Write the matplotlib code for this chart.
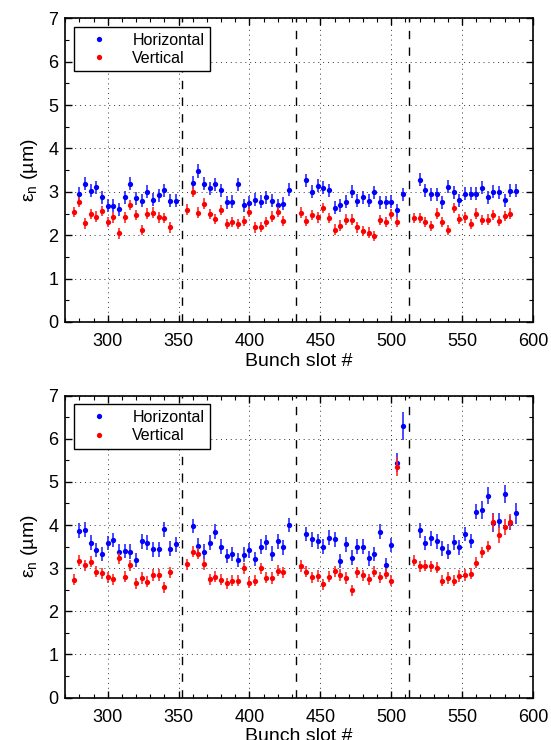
import matplotlib
matplotlib.use('Agg')
import matplotlib.pyplot as plt
from matplotlib.lines import Line2D
from matplotlib.ticker import MultipleLocator

plt.rcParams['font.family'] = ['Liberation Sans', 'DejaVu Sans']
plt.rcParams['mathtext.fontset'] = 'custom'
plt.rcParams['mathtext.rm'] = 'Liberation Sans'

# bunch slots (horizontal points sit one slot-step after the vertical ones)
h_slots = [280, 284, 288, 292, 296, 300, 304, 308, 312, 316, 320, 324, 328, 332, 336, 340, 344, 348,
           360, 364, 368, 372, 376, 380, 384, 388, 392, 396, 400, 404, 408, 412, 416, 420, 424, 428,
           440, 444, 448, 452, 456, 460, 464, 468, 472, 476, 480, 484, 488, 492, 496, 500, 504, 508,
           520, 524, 528, 532, 536, 540, 544, 548, 552, 556, 560, 564, 568, 572, 576, 580, 584, 588]
v_slots = [276, 280, 284, 288, 292, 296, 300, 304, 308, 312, 316, 320, 324, 328, 332, 336, 340, 344,
           356, 360, 364, 368, 372, 376, 380, 384, 388, 392, 396, 400, 404, 408, 412, 416, 420, 424,
           436, 440, 444, 448, 452, 456, 460, 464, 468, 472, 476, 480, 484, 488, 492, 496, 500, 504,
           516, 520, 524, 528, 532, 536, 540, 544, 548, 552, 556, 560, 564, 568, 572, 576, 580, 584]

# top panel
top_h = [2.95, 3.19, 3.02, 3.10, 2.87, 2.68, 2.68, 2.60, 2.87, 3.19, 2.85, 2.79, 3.00, 2.82, 2.92, 3.04, 2.79, 2.79,
         3.21, 3.48, 3.19, 3.08, 3.17, 3.04, 2.76, 2.77, 3.17, 2.69, 2.75, 2.82, 2.77, 2.87, 2.79, 2.69, 2.73, 3.05,
         3.27, 3.00, 3.14, 3.09, 3.04, 2.63, 2.69, 2.77, 3.00, 2.79, 2.87, 2.79, 2.99, 2.76, 2.76, 2.77, 2.58, 2.94,
         3.28, 3.04, 2.94, 2.94, 2.76, 3.12, 2.99, 2.81, 2.95, 2.96, 2.96, 3.09, 2.87, 3.00, 2.99, 2.81, 3.02, 3.02]
top_v = [2.54, 2.77, 2.27, 2.49, 2.43, 2.56, 2.31, 2.41, 2.04, 2.41, 2.69, 2.46, 2.12, 2.50, 2.52, 2.41, 2.39, 2.18,
         2.59, 3.00, 2.52, 2.73, 2.49, 2.37, 2.58, 2.26, 2.31, 2.26, 2.33, 2.54, 2.18, 2.19, 2.31, 2.43, 2.54, 2.33,
         2.52, 2.33, 2.46, 2.41, 2.63, 2.40, 2.13, 2.22, 2.36, 2.36, 2.18, 2.10, 2.06, 1.98, 2.35, 2.30, 2.49, 2.30,
         2.39, 2.40, 2.31, 2.21, 2.50, 2.31, 2.12, 2.63, 2.37, 2.41, 2.26, 2.50, 2.35, 2.36, 2.46, 2.33, 2.44, 2.50]
top_h_err = 0.15
top_v_err = 0.12

# bottom panel
bot_h = [3.87, 3.89, 3.59, 3.42, 3.33, 3.58, 3.65, 3.38, 3.40, 3.38, 3.19, 3.62, 3.59, 3.44, 3.44, 3.90, 3.45, 3.55,
         3.98, 3.52, 3.38, 3.59, 3.85, 3.50, 3.28, 3.33, 3.19, 3.31, 3.41, 3.21, 3.50, 3.60, 3.34, 3.62, 3.48, 4.00,
         3.79, 3.67, 3.62, 3.50, 3.71, 3.67, 3.17, 3.55, 3.24, 3.50, 3.50, 3.23, 3.33, 3.85, 3.07, 3.54, 5.45, 6.30,
         3.88, 3.58, 3.69, 3.62, 3.46, 3.38, 3.60, 3.48, 3.79, 3.63, 4.31, 4.35, 4.68, 4.05, 4.10, 4.72, 4.05, 4.27]
bot_v = [2.73, 3.17, 3.07, 3.15, 2.92, 2.88, 2.79, 2.74, 3.23, 2.80, 3.07, 2.65, 2.77, 2.69, 2.84, 2.84, 2.56, 2.90,
         3.09, 3.38, 3.34, 3.09, 2.74, 2.80, 2.73, 2.65, 2.71, 2.71, 3.00, 2.66, 2.71, 3.00, 2.78, 2.77, 2.94, 2.90,
         3.05, 2.92, 2.79, 2.82, 2.63, 2.80, 2.93, 2.84, 2.77, 2.49, 2.90, 2.83, 2.74, 2.92, 2.79, 2.87, 2.71, 5.35,
         3.17, 3.04, 3.06, 3.04, 3.01, 2.71, 2.77, 2.71, 2.82, 2.84, 2.87, 3.13, 3.37, 3.50, 4.08, 3.77, 3.95, 4.08]
bot_h_err = 0.17
bot_v_err = 0.13
# larger uncertainties on a few bunches (slot: error)
bot_h_err_big = {504: 0.22, 508: 0.32, 564: 0.2, 568: 0.2, 572: 0.22, 580: 0.22, 588: 0.25}
bot_v_err_big = {504: 0.22, 572: 0.18, 576: 0.18, 580: 0.18, 584: 0.18}

train_edges = [352.5, 432.5, 512.5]


def errs(slots, default, big):
    return [big.get(s, default) for s in slots]


fig = plt.figure(figsize=(5.51, 7.40), dpi=100)
ax1 = fig.add_axes([0.1183, 0.5649, 0.849, 0.4104])
ax2 = fig.add_axes([0.1183, 0.0574, 0.849, 0.4079])

panels = [
    (ax1, top_h, top_v, errs(h_slots, top_h_err, {}), errs(v_slots, top_v_err, {})),
    (ax2, bot_h, bot_v, errs(h_slots, bot_h_err, bot_h_err_big), errs(v_slots, bot_v_err, bot_v_err_big)),
]

for ax, h, v, he, ve in panels:
    ax.errorbar(h_slots, h, yerr=he, fmt='o', color='#0000ff', ecolor='#2a2aff', ms=3.8, mew=0,
                elinewidth=1.2, capsize=2.3, capthick=1.2, zorder=3)
    ax.errorbar(v_slots, v, yerr=ve, fmt='o', color='#ff0000', ecolor='#ff2a2a', ms=3.8, mew=0,
                elinewidth=1.2, capsize=2.3, capthick=1.2, zorder=4)
    for xe in train_edges:
        ax.axvline(xe, color='k', linestyle=(0, (6, 6)), lw=1.0, zorder=2)
    ax.set_xlim(270, 600)
    ax.set_ylim(0, 7)
    ax.xaxis.set_major_locator(MultipleLocator(50))
    ax.xaxis.set_minor_locator(MultipleLocator(10))
    ax.yaxis.set_major_locator(MultipleLocator(1))
    ax.yaxis.set_minor_locator(MultipleLocator(0.5))
    ax.grid(True, which='major', linestyle=(0, (1, 4)), color='k', lw=0.7, alpha=0.8)
    ax.tick_params(which='both', direction='in', top=True, right=True, labelsize=13)
    ax.tick_params(which='major', length=5, width=1)
    ax.tick_params(which='minor', length=3, width=0.8)
    ax.tick_params(axis='x', which='major', pad=8)
    ax.tick_params(axis='y', which='major', pad=5)
    for sp in ax.spines.values():
        sp.set_linewidth(1.2)
    ax.set_xlabel('Bunch slot #', fontsize=14, labelpad=2)
    ax.set_ylabel(r'ε$_\mathregular{n}$ (µm)', fontsize=14, labelpad=6)
    handles = [Line2D([], [], ls='none', marker='o', ms=3.8, mew=0, color='#0000ff'),
               Line2D([], [], ls='none', marker='o', ms=3.8, mew=0, color='#ff0000')]
    leg = ax.legend(handles, ['Horizontal', 'Vertical'], loc='upper left', fontsize=11.5,
                    fancybox=False, framealpha=1, edgecolor='k', handletextpad=0.9,
                    borderaxespad=0.55, handlelength=2.4, borderpad=0.35, labelspacing=0.2)
    leg.get_frame().set_linewidth(1.0)

fig.savefig('out.png', dpi=100)
